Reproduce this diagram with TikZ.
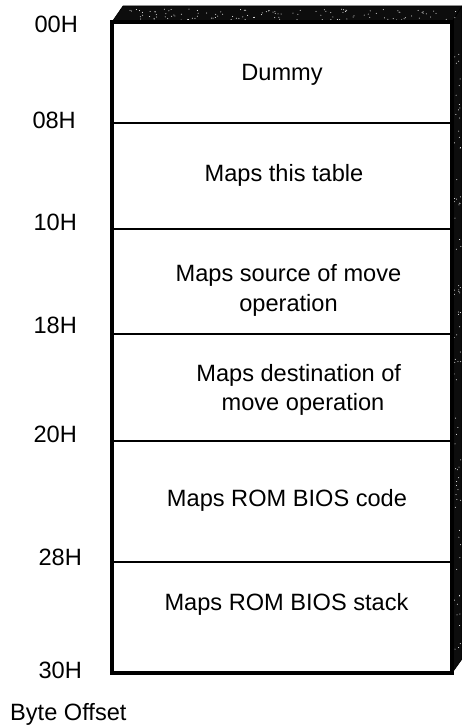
\documentclass[tikz,border=0pt]{standalone}
\usepackage{fontspec}
\setmainfont{Liberation Sans}
\begin{document}
\begin{tikzpicture}[x=1pt,y=-1pt,
  lbl/.style={anchor=base, inner sep=0pt, font=\fontsize{23.6}{29}\selectfont},
  offs/.style={anchor=base east, inner sep=0pt, font=\fontsize{23.6}{29}\selectfont},
  frame/.style={line width=3.2pt, line join=miter},
  divider/.style={line width=2.8pt},
  shade/.style={fill=black!95, draw=black, line width=0.6pt, line join=round}]
\useasboundingbox (0,0) rectangle (462,725);

% depth faces of the block (top and right side)
\filldraw[shade] (112,22) -- (123,6) -- (462,6) -- (452,22) -- cycle;
\filldraw[shade] (452,22) -- (462,6) -- (462,659) -- (452,673) -- cycle;
% light speckle on the depth faces
\pgfmathsetseed{7}
\foreach \i in {1,...,120}{
  \pgfmathsetmacro{\px}{130+330*rnd}
  \pgfmathsetmacro{\py}{9+11*rnd}
  \fill[white] (\px,\py) circle (0.5pt);
}
\foreach \i in {1,...,80}{
  \pgfmathsetmacro{\py}{25+640*rnd}
  \pgfmathsetmacro{\px}{454+7*rnd}
  \fill[white] (\px,\py) circle (0.5pt);
}

% front face and its six rows
\coordinate (r0) at (112,22);
\coordinate (r1) at (112,123);
\coordinate (r2) at (112,229);
\coordinate (r3) at (112,334);
\coordinate (r4) at (112,441);
\coordinate (r5) at (112,562);
\coordinate (r6) at (112,673);
\coordinate (e1) at (452,123);
\coordinate (e2) at (452,229);
\coordinate (e3) at (452,334);
\coordinate (e4) at (452,441);
\coordinate (e5) at (452,562);
\fill[white] (112,22) rectangle (452,673);
\draw[divider] (r1) -- (e1);
\draw[divider] (r2) -- (e2);
\draw[divider] (r3) -- (e3);
\draw[divider] (r4) -- (e4);
\draw[divider] (r5) -- (e5);
\draw[frame] (r0) rectangle (452,673);

% row contents
\node[lbl] (dummy) at (282,80.5) {Dummy};
\node[lbl] (table) at (284,181) {Maps this table};
\node[lbl] (srcA) at (288.5,281.7) {Maps source of move};
\node[lbl] (srcB) at (288.5,311) {operation};
\node[lbl] (dstA) at (298.7,381.7) {Maps destination of};
\node[lbl] (dstB) at (303,410.5) {move operation};
\node[lbl] (code) at (287,506) {Maps ROM BIOS code};
\node[lbl] (stack) at (286.5,610) {Maps ROM BIOS stack};

% byte offsets
\node[offs] (o00) at (78,32.4) {00H};
\node[offs] (o08) at (76,128.4) {08H};
\node[offs] (o10) at (77,230.4) {10H};
\node[offs] (o18) at (77,333.4) {18H};
\node[offs] (o20) at (77,442.4) {20H};
\node[offs] (o28) at (82,565.4) {28H};
\node[offs] (o30) at (82,678.4) {30H};
\node[anchor=base west, inner sep=0pt, font=\fontsize{23.6}{29}\selectfont] (caption) at (10,720) {Byte Offset};
\end{tikzpicture}
\end{document}
